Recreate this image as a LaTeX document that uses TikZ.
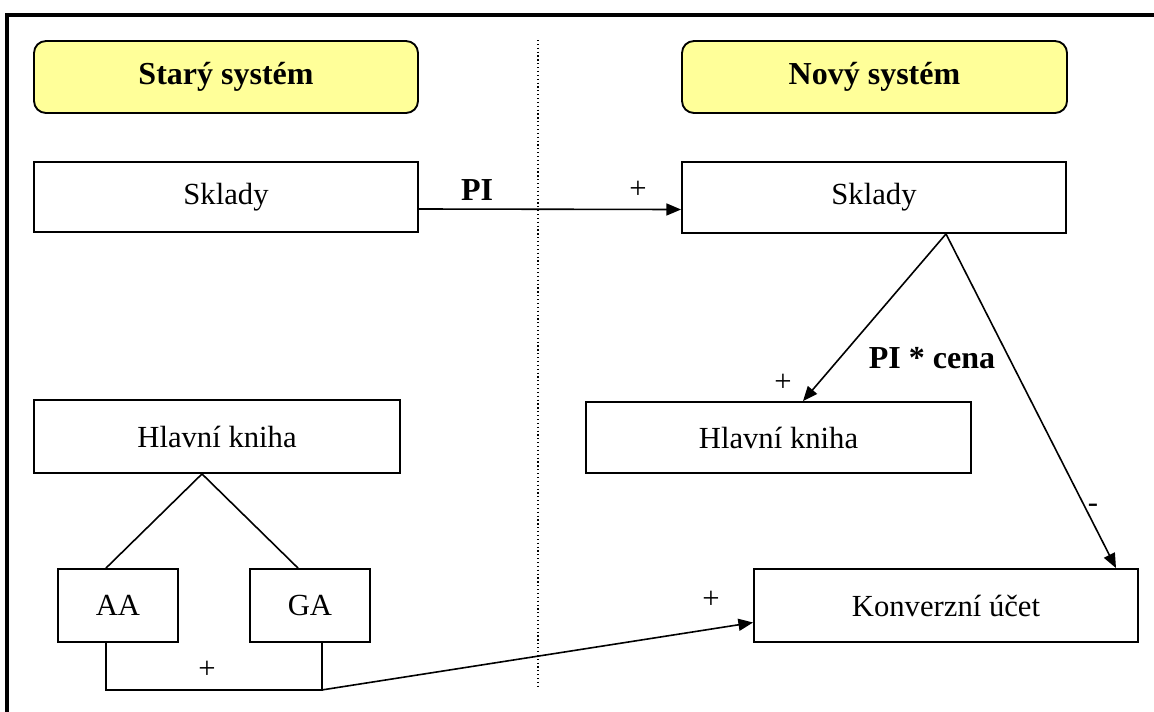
\documentclass[tikz,border=0pt]{standalone}
\usepackage{fontspec}
\setmainfont{Liberation Serif}
\usetikzlibrary{arrows.meta,calc}
\definecolor{headyellow}{HTML}{FFFF99}
\begin{document}
\begin{tikzpicture}[x=0.75pt,y=-0.75pt,
  txt/.style={font=\fontsize{23}{27}\selectfont},
  btxt/.style={font=\fontsize{24}{28}\selectfont\bfseries},
  box/.style={draw, line width=1.4pt, rectangle, inner sep=0pt, txt},
  head/.style={box, rounded corners=9pt, fill=headyellow, btxt},
  arr/.style={line width=1.2pt, -{Triangle[length=11pt,width=9pt]}},
  conn/.style={line width=1.2pt},
  lbl/.style={inner sep=0pt, txt},
  blbl/.style={inner sep=0pt, btxt},
  frame/.style={line width=3pt},
  divider/.style={dotted, line width=0.9pt}]
\useasboundingbox (0,0) rectangle (1154,711);
\clip (0,0) rectangle (1154,711);
\draw[frame] (7,15) rectangle (1170,730);
\draw[divider] (538,40) -- (538,686);
% headers
\node[head, minimum width=288pt, minimum height=54pt] (hL) at (226,77) {Starý systém};
\node[head, minimum width=288.75pt, minimum height=54pt] (hR) at (874.5,77) {Nový systém};
% boxes
\node[box, minimum width=288pt, minimum height=52.5pt] (sL) at (226,197) {\raisebox{3pt}{Sklady}};
\node[box, minimum width=288pt, minimum height=53.25pt] (sR) at (874,197.5) {\raisebox{3pt}{Sklady}};
\node[box, minimum width=274.5pt, minimum height=54.75pt] (kL) at (217,436.5) {Hlavní kniha};
\node[box, minimum width=288.75pt, minimum height=53.25pt] (kR) at (778.5,437.5) {Hlavní kniha};
\node[box, minimum width=90pt, minimum height=54.75pt] (AA) at (118,605.5) {AA};
\node[box, minimum width=90pt, minimum height=54.75pt] (GA) at (310,605.5) {GA};
\node[box, minimum width=288pt, minimum height=54.75pt] (kon) at (946,605.5) {Konverzní účet};
% helper points
\coordinate (apR) at ($(sR.south)+(72,0)$);
\coordinate (apL) at ($(kL.south)+(-15,0)$);
\coordinate (brkA) at ($(AA.south)+(-12,47)$);
\coordinate (brk) at ($(GA.south)+(12,47)$);
% connectors
\draw[arr] ($(sL.east)+(0,12)$) -- ($(sR.west)+(0,12)$);
\draw[arr] (apR) -- ($(kR.north)+(24.5,0)$);
\draw[arr] (apR) -- ($(kon.north)+(170,0)$);
\draw[conn] (apL) -- ($(AA.north)+(-12,0)$);
\draw[conn] (apL) -- ($(GA.north)+(-12,0)$);
\draw[conn] ($(AA.south)+(-12,0)$) -- (brkA) -- (brk) -- ($(GA.south)+(12,0)$);
\draw[arr] (brk) -- ($(kon.west)+(0,17)$);
% labels
\node[blbl] (lPI) at (477,190) {PI};
\node[lbl] (lp1) at (638,190) {+};
\node[lbl] (lp2) at (783,383) {+};
\node[blbl] (lPIc) at (932,358) {PI * cena};
\node[lbl] (lmin) at (1093,508) {-};
\node[lbl] (lp3) at (711,600) {+};
\node[lbl] (lp4) at (207,670) {+};
\end{tikzpicture}
\end{document}
